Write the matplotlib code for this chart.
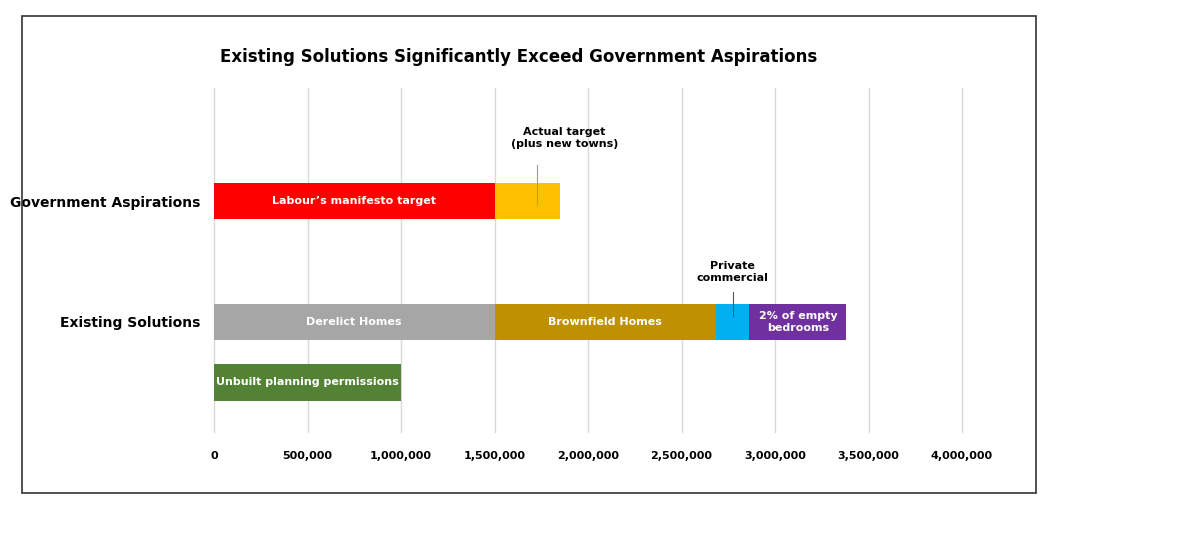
import matplotlib.pyplot as plt
from matplotlib.patches import Rectangle


def draw_segments(ax, y, segments, height=0.6):
    left = 0
    for label, width, color in segments:
        ax.barh(y, width, left=left, height=height, color=color)
        if label:
            ax.text(left + width / 2, y, label, ha="center", va="center",
                    fontsize=8, fontweight="bold", color="white")
        left += width


def main():
    gov_segments = [
        ("Labour’s manifesto target", 1500000, "#ff0000"),
        ("", 350000, "#ffc000"),
    ]
    existing_segments = [
        ("Derelict Homes", 1500000, "#a6a6a6"),
        ("Brownfield Homes", 1185000, "#bf9000"),
        ("", 177000, "#00b0f0"),
        ("2% of empty\nbedrooms", 520000, "#7030a0"),
    ]
    unbuilt_segments = [
        ("Unbuilt planning permissions", 1000000, "#548235"),
    ]

    fig = plt.figure(figsize=(12, 5.54), dpi=100)
    fig.patches.append(Rectangle((22 / 1200, 1 - 493 / 554), 1014 / 1200, 477 / 554,
                                 transform=fig.transFigure, fill=False,
                                 edgecolor="#333333", linewidth=1.2))
    ax = fig.add_axes([214 / 1200, 1 - 432 / 554, 748 / 1200, 344 / 554])

    draw_segments(ax, 0, gov_segments)
    draw_segments(ax, 2, existing_segments)
    draw_segments(ax, 3, unbuilt_segments)

    ax.set_xlim(0, 4000000)
    ax.set_ylim(3.82, -1.87)
    ax.set_xticks(range(0, 4000001, 500000))
    ax.set_xticklabels([f"{v:,}" for v in range(0, 4000001, 500000)],
                       fontsize=8, fontweight="bold")
    ax.set_yticks([0, 2])
    ax.set_yticklabels(["Government Aspirations", "Existing Solutions"],
                       fontsize=10, fontweight="bold")
    ax.tick_params(length=0, pad=14)
    ax.tick_params(axis="y", pad=10)
    ax.grid(axis="x", color="#d9d9d9", linewidth=1)
    for line in ax.get_xgridlines():
        line.set_clip_on(False)
    ax.set_axisbelow(True)
    for spine in ax.spines.values():
        spine.set_visible(False)

    # callouts
    ax.annotate("Actual target\n(plus new towns)", xy=(1725000, 0.05), xytext=(1875000, -1.04),
                ha="center", va="center", fontsize=8, fontweight="bold")
    ax.plot([1725000, 1725000], [-0.6, 0.05], color="#999999", lw=0.8)
    ax.annotate("Private\ncommercial", xy=(2773000, 1.9), xytext=(2773000, 1.17),
                ha="center", va="center", fontsize=8, fontweight="bold")
    ax.plot([2773000, 2773000], [1.5, 1.9], color="#555555", lw=0.8)

    fig.text(519 / 1200, 1 - 57 / 554, "Existing Solutions Significantly Exceed Government Aspirations",
             ha="center", va="center", fontsize=12, fontweight="bold")

    fig.savefig("out.png", dpi=100)

if __name__ == "__main__":
    main()
